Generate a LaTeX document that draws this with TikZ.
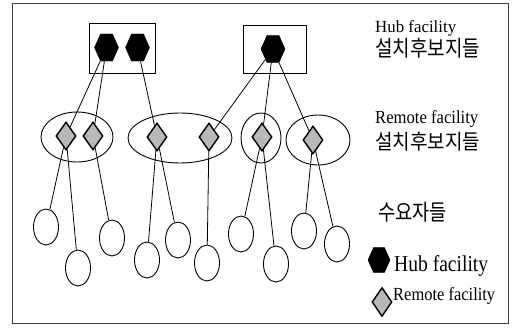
\documentclass[tikz,border=0pt]{standalone}
\usepackage{fontspec}
\usepackage{graphicx}
\setmainfont{Liberation Serif}
\newfontfamily\krfont{Noto Sans CJK KR}
\usetikzlibrary{shapes.geometric}
\begin{document}
\begin{tikzpicture}[x=1pt,y=-1pt,
  hubhex/.style={regular polygon, regular polygon sides=6, minimum size=24pt,
    inner sep=0pt, draw=black, fill=black, yscale=1.3, transform shape},
  remdia/.style={diamond, minimum width=20pt, minimum height=28pt, inner sep=0pt,
    draw=black, line width=1.4pt, fill=black!28},
  cluster/.style={ellipse, draw=black, line width=0.9pt, inner sep=0pt},
  demand/.style={ellipse, draw=black, line width=0.9pt, inner sep=0pt,
    minimum width=25pt, minimum height=36pt},
  sitebox/.style={rectangle, draw=black, line width=0.9pt, inner sep=0pt},
  link/.style={draw=black, line width=0.8pt},
  lbl/.style={inner sep=0pt, anchor=base west},
  krlbl/.style={inner sep=0pt, anchor=north west, font=\krfont},
]
\useasboundingbox (0,0) rectangle (512,332);
\draw[black!75, line width=1pt] (12,3) rectangle (508,323);

% candidate hub sites
\node[sitebox, minimum width=66pt, minimum height=50pt] (b1) at (122,48) {};
\node[sitebox, minimum width=63pt, minimum height=48pt] (b2) at (274.5,49.5) {};
\path (106.5,47.5) node[hubhex] (h1) {};
\path (137.5,47.5) node[hubhex] (h2) {};
\path (273,49) node[hubhex] (h3) {};

% candidate remote sites
\node[cluster, minimum width=72pt, minimum height=50pt] (e1) at (77,137) {};
\node[cluster, minimum width=104pt, minimum height=50pt] (e2) at (180,138) {};
\node[cluster, minimum width=40pt, minimum height=50pt] (e3) at (261,138) {};
\node[cluster, minimum width=64pt, minimum height=50pt] (e4) at (318,140) {};
\node[remdia] (d1) at (66,136) {};
\node[remdia] (d2) at (93,136) {};
\node[remdia] (d3) at (157,137) {};
\node[remdia] (d4) at (209,137) {};
\node[remdia] (d5) at (262,137) {};
\node[remdia] (d6) at (313,140) {};

% demand points
\node[demand] (c1) at (46,227) {};
\node[demand] (c2) at (78,268) {};
\node[demand] (c3) at (112,238) {};
\node[demand] (c4) at (147,260) {};
\node[demand] (c5) at (178,240) {};
\node[demand] (c6) at (207,263) {};
\node[demand] (c7) at (241,234) {};
\node[demand] (c8) at (276,264) {};
\node[demand] (c9) at (304,231) {};
\node[demand] (c10) at (337,244) {};

% hub to remote links
\draw[link] (h1) -- (d1);
\draw[link] (h1) -- (d2);
\draw[link] (h2) -- (d3);
\draw[link] (h3) -- (d4);
\draw[link] (h3) -- (d5);
\draw[link] (h3) -- (d6);

% remote to demand links
\draw[link] (d1) -- (c1);
\draw[link] (d1) -- (c2);
\draw[link] (d2) -- (c3);
\draw[link] (d3) -- (c4);
\draw[link] (d3) -- (c5);
\draw[link] (d4) -- (c6);
\draw[link] (d5) -- (c7);
\draw[link] (d5) -- (c8);
\draw[link] (d6) -- (c9);
\draw[link] (d6) -- (c10);

% labels
\node[lbl] (t1) at (375,33) {\resizebox{81pt}{12pt}{Hub facility}};
\node[krlbl] (t2) at (375,38) {\resizebox*{105pt}{20pt}{설치후보지들}};
\node[lbl] (t3) at (375,123) {\resizebox{103pt}{13pt}{Remote facility}};
\node[krlbl] (t4) at (375,132) {\resizebox*{105pt}{19pt}{설치후보지들}};
\node[krlbl] (t5) at (378,202) {\resizebox*{69pt}{20pt}{수요자들}};

% legend
\path (379,260) node[hubhex, minimum size=22pt] (lh) {};
\node[remdia, minimum width=20pt, minimum height=29pt] (ld) at (382,302) {};
\node[lbl] (l1) at (394,271) {\resizebox{94pt}{16pt}{Hub facility}};
\node[lbl] (l2) at (393,300) {\resizebox{102pt}{13pt}{Remote facility}};
\end{tikzpicture}
\end{document}
